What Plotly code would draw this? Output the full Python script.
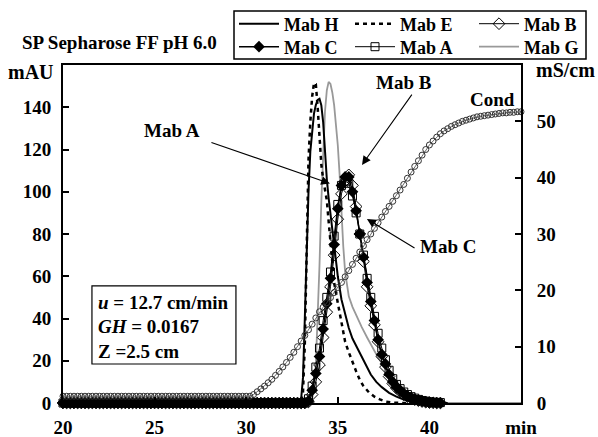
import plotly.graph_objects as go

# ---------------- data ----------------
# common time grid (min) for the marker series Mab C / Mab A / Mab B
t_mab = [20.0, 20.2, 20.4, 20.6, 20.8, 21.0, 21.2, 21.4, 21.6, 21.8,
         22.0, 22.2, 22.4, 22.6, 22.8, 23.0, 23.2, 23.4, 23.6, 23.8,
         24.0, 24.2, 24.4, 24.6, 24.8, 25.0, 25.2, 25.4, 25.6, 25.8,
         26.0, 26.2, 26.4, 26.6, 26.8, 27.0, 27.2, 27.4, 27.6, 27.8,
         28.0, 28.2, 28.4, 28.6, 28.8, 29.0, 29.2, 29.4, 29.6, 29.8,
         30.0, 30.2, 30.4, 30.6, 30.8, 31.0, 31.2, 31.4, 31.6, 31.8,
         32.0, 32.2, 32.4, 32.6, 32.8, 33.0, 33.2, 33.4, 33.6, 33.8,
         34.0, 34.2, 34.4, 34.6, 34.8, 35.0, 35.2, 35.4, 35.6, 35.8,
         36.0, 36.2, 36.4, 36.6, 36.8, 37.0, 37.2, 37.4, 37.6, 37.8,
         38.0, 38.2, 38.4, 38.6, 38.8, 39.0, 39.2, 39.4, 39.6, 39.8,
         40.0, 40.2, 40.4, 40.6]

mab_c = [0, 0, 0, 0, 0, 0, 0, 0, 0, 0,
         0, 0, 0, 0, 0, 0, 0, 0, 0, 0,
         0, 0, 0, 0, 0, 0, 0, 0, 0, 0,
         0, 0, 0, 0, 0, 0, 0, 0, 0, 0,
         0, 0, 0, 0, 0, 0, 0, 0, 0, 0,
         0, 0, 0, 0, 0, 0, 0, 0, 0, 0,
         0, 0, 0, 0, 0, 0, 0, 1, 6, 14,
         22, 35, 47, 59, 75, 92, 103, 107, 107, 100,
         91, 80, 69, 57, 48, 39, 30, 23, 18.5, 13.5,
         10, 7.5, 6, 4.5, 3.3, 2.4, 1.7, 1.2, 0.8, 0.5,
         0.3, 0.2, 0, 0]

mab_a = [0, 0, 0, 0, 0, 0, 0, 0, 0, 0,
         0, 0, 0, 0, 0, 0, 0, 0, 0, 0,
         0, 0, 0, 0, 0, 0, 0, 0, 0, 0,
         0, 0, 0, 0, 0, 0, 0, 0, 0, 0,
         0, 0, 0, 0, 0, 0, 0, 0, 0, 0,
         0, 0, 0, 0, 0, 0, 0, 0, 0, 0,
         0, 0, 0, 0, 0, 0, 0, 2, 8, 17,
         26, 39, 50, 62, 79, 94, 103, 105, 104, 98,
         90, 80, 70, 59, 50, 41, 33, 26, 20.5, 15.5,
         11.5, 8.8, 6.8, 5.2, 4, 3, 2.3, 1.7, 1.2, 0.9,
         0.6, 0.4, 0.3, 0.2]

mab_b = [0, 0, 0, 0, 0, 0, 0, 0, 0, 0,
         0, 0, 0, 0, 0, 0, 0, 0, 0, 0,
         0, 0, 0, 0, 0, 0, 0, 0, 0, 0,
         0, 0, 0, 0, 0, 0, 0, 0, 0, 0,
         0, 0, 0, 0, 0, 0, 0, 0, 0, 0,
         0, 0, 0, 0, 0, 0, 0, 0, 0, 0,
         0, 0, 0, 0, 0, 0, 0, 0.5, 4, 10,
         18, 31, 43, 55, 70, 87, 99, 105, 108, 103,
         93, 80, 67, 55, 46, 37, 29, 22, 17, 12.5,
         9.2, 7, 5.4, 4, 3, 2.2, 1.6, 1.1, 0.7, 0.4,
         0.2, 0.1, 0, 0]

# line-only series
t_h = [20, 32.8, 33.0, 33.1, 33.2, 33.3, 33.4, 33.5, 33.6, 33.7,
       33.8, 33.9, 34.0, 34.1, 34.2, 34.3, 34.4, 34.5, 34.6, 34.7,
       34.8, 34.9, 35.0, 35.2, 35.4, 35.6, 35.8, 36.0, 36.2, 36.5,
       36.8, 37.1, 37.4, 37.8, 38.2, 38.6, 39.0, 39.5, 40.0, 41.0]
mab_h = [0, 0, 2, 12, 40, 72, 100, 119, 130, 137,
         141, 143.5, 144, 141, 133, 118, 106, 97, 89, 81,
         74, 67, 60, 49, 41.5, 35.5, 30.5, 27, 23.5, 18,
         13.5, 10, 7.5, 4.8, 3, 1.6, 0.8, 0.3, 0.1, 0]

t_e = [20, 32.9, 33.0, 33.1, 33.2, 33.3, 33.4, 33.5, 33.6, 33.7,
       33.8, 33.9, 34.0, 34.1, 34.2, 34.3, 34.4, 34.5, 34.6, 34.7,
       34.8, 34.9, 35.0, 35.2, 35.4, 35.6, 35.8, 36.0, 36.2, 36.4,
       36.7, 37.0, 37.3, 37.6, 38.0, 38.5, 41.0]
mab_e = [0, 0, 0.5, 5, 28, 80, 115, 133, 145, 151.5,
         151, 140, 125, 113, 106, 101, 96, 86, 75, 65,
         57, 52, 47, 37, 29, 24, 19, 15, 11, 8,
         5, 3, 1.7, 0.7, 0.2, 0, 0]

t_g = [20, 33.5, 33.6, 33.7, 33.8, 33.9, 34.0, 34.1, 34.2, 34.3,
       34.4, 34.5, 34.6, 34.7, 34.8, 34.9, 35.0, 35.1, 35.2, 35.3,
       35.4, 35.5, 35.6, 35.8, 36.0, 36.3, 36.6, 36.9, 37.2, 37.5,
       37.8, 38.1, 38.4, 38.7, 39.0, 39.3, 39.6, 40.0, 40.5, 41.0,
       42.0, 45.0]
mab_g = [0, 0, 2, 7, 18, 40, 65, 95, 120, 138,
         148, 152, 151, 147, 141, 133, 122, 108, 90, 74,
         62, 55, 50.5, 45.5, 41.5, 36, 31, 26, 21.5, 17.5,
         14, 11, 8.3, 6, 4.2, 2.8, 1.6, 0.8, 0.3, 0.1,
         0, 0]

# conductivity (mS/cm, right axis)
t_cond = [20.0, 20.2, 20.4, 20.6, 20.8, 21.0, 21.2, 21.4, 21.6, 21.8,
          22.0, 22.2, 22.4, 22.6, 22.8, 23.0, 23.2, 23.4, 23.6, 23.8,
          24.0, 24.2, 24.4, 24.6, 24.8, 25.0, 25.2, 25.4, 25.6, 25.8,
          26.0, 26.2, 26.4, 26.6, 26.8, 27.0, 27.2, 27.4, 27.6, 27.8,
          28.0, 28.2, 28.4, 28.6, 28.8, 29.0, 29.2, 29.4, 29.6, 29.8,
          30.0, 30.2, 30.4, 30.6, 30.8, 31.0, 31.2, 31.4, 31.6, 31.8,
          32.0, 32.2, 32.4, 32.6, 32.8, 33.0, 33.2, 33.4, 33.6, 33.8,
          34.0, 34.2, 34.4, 34.6, 34.8, 35.0, 35.2, 35.4, 35.6, 35.8,
          36.0, 36.2, 36.4, 36.6, 36.8, 37.0, 37.2, 37.4, 37.6, 37.8,
          38.0, 38.2, 38.4, 38.6, 38.8, 39.0, 39.2, 39.4, 39.6, 39.8,
          40.0, 40.2, 40.4, 40.6, 40.8, 41.0, 41.2, 41.4, 41.6, 41.8,
          42.0, 42.2, 42.4, 42.6, 42.8, 43.0, 43.2, 43.4, 43.6, 43.8,
          44.0, 44.2, 44.4, 44.6, 44.8, 45.0]
cond = [1.2, 1.2, 1.2, 1.2, 1.2, 1.2, 1.2, 1.2, 1.2, 1.2,
        1.2, 1.2, 1.2, 1.2, 1.2, 1.2, 1.2, 1.2, 1.2, 1.2,
        1.2, 1.2, 1.2, 1.2, 1.2, 1.2, 1.2, 1.2, 1.2, 1.2,
        1.2, 1.2, 1.2, 1.2, 1.2, 1.2, 1.2, 1.2, 1.2, 1.2,
        1.2, 1.2, 1.2, 1.2, 1.2, 1.2, 1.2, 1.2, 1.2, 1.2,
        1.2, 1.2, 1.5, 2.0, 2.5, 3.0, 3.6, 4.2, 4.9, 5.6,
        6.4, 7.2, 8.1, 9.0, 10.0, 11.0, 12.0, 13.0, 14.0, 15.1,
        16.2, 17.0, 17.8, 18.7, 19.6, 20.5, 21.4, 22.4, 23.5, 24.6,
        25.7, 26.8, 27.9, 29.0, 30.0, 31.0, 32.0, 33.0, 34.0, 34.9,
        35.8, 36.8, 37.8, 38.8, 39.9, 41.0, 42.0, 43.0, 44.0, 45.0,
        45.8, 46.5, 47.2, 47.8, 48.3, 48.7, 49.1, 49.4, 49.7, 50.0,
        50.2, 50.4, 50.6, 50.8, 50.9, 51.0, 51.1, 51.2, 51.3, 51.4,
        51.5, 51.5, 51.6, 51.6, 51.7, 51.7]

x_tickvals = [20, 25, 30, 35, 40, 45]
x_ticktext = ["20", "25", "30", "35", "40", "min"]
y_tickvals = [0, 20, 40, 60, 80, 100, 120, 140]
y2_tickvals = [0, 10, 20, 30, 40, 50]

# ---------------- figure ----------------
FONT = "Liberation Serif, Times New Roman, serif"
W, H = 598, 437
ML, MR, MT, MB = 63, 77, 65, 34
PW, PH = W - ML - MR, H - MT - MB


def px(xp):
    return (xp - ML) / PW


def py(yp):
    return (H - MB - yp) / PH


fig = go.Figure()

fig.add_trace(go.Scatter(
    x=t_cond, y=cond, yaxis="y2", name="Cond", mode="lines+markers",
    line=dict(color="#444444", width=0.8),
    marker=dict(symbol="circle-open", size=6, color="#333333", line=dict(width=1)),
    showlegend=False, cliponaxis=False))

fig.add_trace(go.Scatter(
    x=t_g, y=mab_g, name="Mab G", mode="lines", legend="legend6",
    line=dict(color="#999999", width=1.8), cliponaxis=False))

fig.add_trace(go.Scatter(
    x=t_h, y=mab_h, name="Mab H", mode="lines", legend="legend",
    line=dict(color="black", width=2), cliponaxis=False))

fig.add_trace(go.Scatter(
    x=t_e, y=mab_e, name="Mab E", mode="lines", legend="legend2",
    line=dict(color="black", width=2.5, dash="4px,4px"), cliponaxis=False))

fig.add_trace(go.Scatter(
    x=t_mab, y=mab_a, name="Mab A", mode="lines+markers", legend="legend5",
    line=dict(color="black", width=1),
    marker=dict(symbol="square-open", size=8, color="black", line=dict(width=1)),
    cliponaxis=False))

fig.add_trace(go.Scatter(
    x=t_mab, y=mab_b, name="Mab B", mode="lines+markers", legend="legend3",
    line=dict(color="black", width=1),
    marker=dict(symbol="diamond-open", size=9, color="black", line=dict(width=1)),
    cliponaxis=False))

fig.add_trace(go.Scatter(
    x=t_mab, y=mab_c, name="Mab C", mode="lines+markers", legend="legend4",
    line=dict(color="black", width=1.5),
    marker=dict(symbol="diamond", size=9, color="black"),
    cliponaxis=False))

axis_common = dict(showgrid=False, zeroline=False, showline=True, linecolor="black",
                   linewidth=2, ticks="inside", ticklen=6, tickwidth=1.5, tickcolor="black",
                   automargin=False,
                   tickfont=dict(family=FONT, size=19, color="black", weight="bold"))

legfont = dict(family=FONT, size=18, color="black", weight="bold")


def leg(xp, yp):
    return dict(orientation="v", x=px(xp), y=py(yp), xanchor="left", yanchor="middle",
                borderwidth=0, bgcolor="rgba(0,0,0,0)", font=legfont,
                itemwidth=40, tracegroupgap=0)


fig.update_layout(
    width=W, height=H,
    margin=dict(l=ML, r=MR, t=MT, b=MB, pad=0, autoexpand=False),
    paper_bgcolor="white", plot_bgcolor="white",
    font=dict(family=FONT, size=19, color="black", weight="bold"),
    xaxis=dict(range=[20, 45], tickvals=x_tickvals, ticktext=x_ticktext, mirror=True,
               ticklabelstandoff=6, **axis_common),
    yaxis=dict(range=[0, 160], tickvals=y_tickvals, ticklabelstandoff=6, **axis_common),
    yaxis2=dict(range=[0, 60], tickvals=y2_tickvals, overlaying="y", side="right",
                ticklabelstandoff=10, **axis_common),
    legend=leg(234, 24), legend2=leg(350, 24), legend3=leg(474, 24),
    legend4=leg(234, 47), legend5=leg(350, 47), legend6=leg(474, 47),
)

ann = []
bold = dict(family=FONT, size=19, color="black", weight="bold")
ann.append(dict(xref="paper", yref="paper", x=px(20), y=py(43), xanchor="left", yanchor="middle",
                text="SP Sepharose FF pH 6.0", showarrow=False, font=bold))
ann.append(dict(xref="paper", yref="paper", x=px(56), y=py(72), xanchor="right", yanchor="middle",
                text="mAU", showarrow=False, font=dict(family=FONT, size=20, color="black", weight="bold")))
ann.append(dict(xref="paper", yref="paper", x=px(534), y=py(70), xanchor="left", yanchor="middle",
                text="mS/cm", showarrow=False, font=dict(family=FONT, size=20, color="black", weight="bold")))

# labels with arrows (positions in data coordinates)
labels = [("Mab A", 25.95, 129.2, 34.57, 103.9, 28.02, 123.6),
          ("Mab B", 38.61, 151.5, 36.32, 112.7, 39.10, 146.7),
          ("Mab C", 41.02, 74.3, 36.59, 87.1, 39.27, 72.9)]
for txt, tx, ty, hx, hy, sx, sy in labels:
    ann.append(dict(xref="x", yref="y", x=tx, y=ty, text=txt, showarrow=False, font=bold))
    ann.append(dict(xref="x", yref="y", axref="x", ayref="y", x=hx, y=hy, ax=sx, ay=sy,
                    text="", showarrow=True, arrowhead=2, arrowsize=1.6, arrowwidth=1.1,
                    arrowcolor="black", standoff=0, startstandoff=0))
ann.append(dict(xref="x", yref="y", x=43.42, y=143.9, text="Cond", showarrow=False, font=bold))

# info box
info = [("<i>u</i> = 12.7 cm/min", 47.8), ("<i>GH</i> = 0.0167", 36.2), ("Z =2.5 cm", 24.4)]
for txt, yy in info:
    ann.append(dict(xref="x", yref="y", x=21.8, y=yy, xanchor="left", yanchor="middle",
                    text=txt, showarrow=False, font=bold))
fig.update_layout(annotations=ann)
fig.add_shape(type="rect", xref="x", yref="y", x0=21.58, x1=29.44, y0=18.46, y1=55.4,
              line=dict(color="black", width=1.2), fillcolor="rgba(0,0,0,0)")
# legend frame
fig.add_shape(type="rect", xref="paper", yref="paper", x0=px(234), x1=px(586),
              y0=py(59), y1=py(11), line=dict(color="black", width=1.5),
              fillcolor="rgba(0,0,0,0)", layer="above")

fig.write_html("out.html")
